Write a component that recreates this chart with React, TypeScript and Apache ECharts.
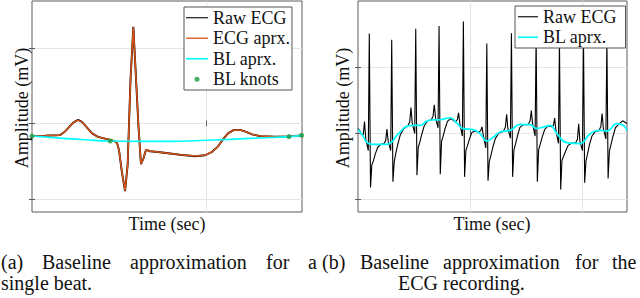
import React, { useEffect, useRef } from 'react';
import * as echarts from 'echarts';

// ---------- (a) single beat ----------
const beatTime = [0, 0.041, 0.088, 0.101, 0.113, 0.129, 0.145, 0.157, 0.170, 0.189, 0.208, 0.233, 0.252, 0.261, 0.268, 0.274, 0.283, 0.293, 0.301, 0.310, 0.319, 0.327, 0.335, 0.343, 0.351, 0.359, 0.372, 0.403, 0.466, 0.513, 0.545, 0.567, 0.586, 0.601, 0.617, 0.636, 0.655, 0.674, 0.693, 0.718, 0.765, 0.812, 0.850];
const beatRaw = [-0.167, -0.164, -0.155, -0.118, -0.066, 0.007, 0.049, 0.020, -0.039, -0.132, -0.178, -0.204, -0.224, -0.237, -0.263, -0.355, -0.645, -0.895, -0.553, 0.566, 1.276, 0.632, -0.026, -0.539, -0.461, -0.349, -0.368, -0.382, -0.414, -0.434, -0.421, -0.375, -0.303, -0.211, -0.132, -0.086, -0.086, -0.112, -0.145, -0.168, -0.175, -0.171, -0.158];
const beatAprx = [-0.167, -0.164, -0.156, -0.120, -0.068, 0.004, 0.044, 0.018, -0.040, -0.132, -0.178, -0.204, -0.224, -0.237, -0.263, -0.355, -0.645, -0.890, -0.553, 0.566, 1.270, 0.632, -0.026, -0.535, -0.461, -0.349, -0.368, -0.382, -0.414, -0.432, -0.421, -0.375, -0.303, -0.211, -0.132, -0.088, -0.088, -0.112, -0.145, -0.168, -0.175, -0.171, -0.158];
const blBeatTime = [0, 0.088, 0.167, 0.246, 0.340, 0.435, 0.529, 0.623, 0.718, 0.809, 0.850];
const blBeatVal = [-0.167, -0.195, -0.217, -0.233, -0.237, -0.237, -0.226, -0.211, -0.192, -0.175, -0.158];
const knotTime = [0, 0.246, 0.809, 0.849];
const knotVal = [-0.167, -0.233, -0.175, -0.158];

// ---------- (b) recording ----------
const recTime = [
  0, 0.08,
  0.147, 0.236, 0.290, 0.348, 0.415, 0.459, 0.504, 0.558, 0.616, 0.683, 0.772, 0.883, 1.04,
  1.147, 1.236, 1.290, 1.348, 1.415, 1.459, 1.504, 1.558, 1.616, 1.683, 1.772, 1.883, 2.04,
  2.219, 2.308, 2.362, 2.420, 2.487, 2.531, 2.576, 2.630, 2.688, 2.755, 2.844, 2.955, 3.112,
  3.259, 3.348, 3.402, 3.460, 3.527, 3.571, 3.616, 3.670, 3.728, 3.795, 3.884, 3.995, 4.152,
  4.344, 4.433, 4.487, 4.545, 4.612, 4.656, 4.701, 4.755, 4.813, 4.880, 4.969, 5.080, 5.237,
  5.389, 5.478, 5.532, 5.590, 5.657, 5.701, 5.746, 5.800, 5.858, 5.925, 6.014, 6.125, 6.282,
  6.487, 6.576, 6.630, 6.688, 6.755, 6.799, 6.844, 6.898, 6.956, 7.023, 7.112, 7.223, 7.380,
  7.589, 7.678, 7.732, 7.790, 7.857, 7.901, 7.946, 8.000, 8.058, 8.125, 8.214, 8.325, 8.482,
  8.630, 8.719, 8.773, 8.831, 8.898, 8.942, 8.987, 9.041, 9.099, 9.166, 9.255, 9.366, 9.523,
  9.701, 9.790, 9.844, 9.902, 9.969, 10.013, 10.058, 10.112, 10.170, 10.237, 10.326, 10.437, 10.594,
  10.746, 10.835, 10.889, 10.947, 11.014, 11.058, 11.103, 11.157, 11.215, 11.282, 11.371, 11.482, 11.639,
  11.8, 12.0,
];
const recRaw = [
  0.07, 0.04,
  -0.01, -0.02, 0.18, -0.09, -0.19, -0.26, 1.508, -0.817, -0.48, -0.42, -0.31, -0.21, -0.16,
  -0.16, -0.11, 0.065, -0.125, -0.205, -0.26, 1.414, -0.732, -0.43, -0.305, -0.17, -0.025, 0.07,
  0.11, 0.17, 0.39, 0.15, 0.06, 0.0, 1.579, -0.632, -0.21, -0.135, -0.015, 0.115, 0.19,
  0.20, 0.26, 0.43, 0.235, 0.145, 0.085, 1.624, -0.617, -0.12, -0.045, 0.07, 0.185, 0.225,
  0.17, 0.21, 0.31, 0.145, 0.03, -0.04, 1.689, -0.657, -0.26, -0.19, -0.09, 0.015, 0.04,
  0.01, 0.045, 0.10, -0.03, -0.145, -0.22, 1.358, -0.717, -0.425, -0.335, -0.21, -0.08, 0.005,
  0.03, 0.095, 0.29, 0.07, -0.015, -0.075, 1.514, -0.657, -0.25, -0.165, -0.04, 0.09, 0.135,
  0.13, 0.19, 0.345, 0.14, 0.03, -0.04, 1.474, -0.732, -0.25, -0.17, -0.06, 0.055, 0.115,
  0.10, 0.12, 0.23, 0.04, -0.075, -0.15, 1.398, -0.847, -0.405, -0.35, -0.275, -0.185, -0.145,
  -0.15, -0.09, 0.146, -0.125, -0.205, -0.26, 1.474, -0.747, -0.42, -0.315, -0.17, -0.04, 0.03,
  0.04, 0.105, 0.30, 0.07, -0.02, -0.085, 1.429, -0.681, -0.27, -0.175, -0.05, 0.085, 0.14,
  0.19, 0.15,
];
const blRecTime = [0, 0.179, 0.388, 0.625, 0.982, 1.281, 1.504, 1.696, 1.875, 2.174, 2.455, 2.768, 3.067, 3.348, 3.661, 4.107, 4.406, 4.701, 5.147, 5.446, 5.746, 6.040, 6.339, 6.786, 7.232, 7.679, 7.946, 8.272, 8.571, 8.871, 9.317, 9.911, 10.058, 10.357, 10.804, 11.103, 11.549, 11.844, 12.0];
const blRecVal = [0.056, -0.015, -0.131, -0.165, -0.165, -0.165, -0.131, -0.045, 0.020, 0.105, 0.120, 0.120, 0.185, 0.203, 0.206, 0.236, 0.155, 0.071, 0.056, -0.005, -0.116, -0.056, 0.020, 0.045, 0.135, 0.131, 0.075, 0.095, 0.120, -0.005, -0.140, -0.155, -0.131, -0.005, 0.045, 0.035, 0.146, 0.120, 0.045];

const legendA = ['Raw ECG', 'ECG aprx.', 'BL aprx.', 'BL knots'];
const legendB = ['Raw ECG', 'BL aprx.'];
const xTicksA = [0.55];
const yTicksA = [-1, 0, 1];
const xTicksB = [5, 10];
const yTicksB = [-1, 0, 1];

const FONT = 'Liberation Serif';
const FRAME = '#5c5c5c';
const GRIDC = '#e4e4e4';

function zip(a: number[], b: number[]) {
  return a.map((v, i) => [v, b[i]]);
}

function mkAxis(gridIndex: number, min: number, max: number, ticks: number[], position: string, mirror: boolean) {
  return {
    type: 'value',
    gridIndex,
    min,
    max,
    position,
    axisLine: { show: false },
    axisLabel: { show: false, customValues: ticks },
    axisTick: { show: true, inside: true, length: 3, customValues: ticks, lineStyle: { color: FRAME, width: 1 } },
    splitLine: { show: !mirror, lineStyle: { color: GRIDC, width: 1 } },
  };
}

function txt(text: string, x: number, y: number, size: number, align = 'left', rotation = 0) {
  return {
    type: 'text',
    x,
    y,
    rotation,
    z: 10,
    style: { text, fontSize: size, fontFamily: FONT, fill: '#111', align, verticalAlign: 'middle' },
  };
}

function lineIcon(w: number, thick: number) {
  const a = 5 - thick / 2;
  const b = 5 + thick / 2;
  return `path://M0,0M${w},10M0,${a}L${w},${a}L${w},${b}L0,${b}Z`;
}

const legendCommon = {
  orient: 'vertical',
  itemHeight: 10,
  itemGap: 1,
  backgroundColor: '#fff',
  borderColor: '#555',
  borderWidth: 1,
  borderRadius: 0,
  selectedMode: false,
  textStyle: { fontFamily: FONT, fontSize: 18, color: '#111', lineHeight: 19.5 },
};

const option = {
  animation: false,
  backgroundColor: '#fff',
  grid: [
    { left: 32, top: 1, width: 270, height: 211, show: true, borderColor: FRAME, borderWidth: 1, backgroundColor: 'transparent' },
    { left: 358, top: 1, width: 269, height: 211, show: true, borderColor: FRAME, borderWidth: 1, backgroundColor: 'transparent' },
  ],
  xAxis: [
    mkAxis(0, 0, 0.85, xTicksA, 'bottom', false),
    mkAxis(0, 0, 0.85, xTicksA, 'top', true),
    mkAxis(1, 0, 12, xTicksB, 'bottom', false),
    mkAxis(1, 0, 12, xTicksB, 'top', true),
  ],
  yAxis: [
    mkAxis(0, -1.171, 1.618, yTicksA, 'left', false),
    mkAxis(0, -1.171, 1.618, yTicksA, 'right', true),
    mkAxis(1, -1.188, 2.0, yTicksB, 'left', false),
    mkAxis(1, -1.188, 2.0, yTicksB, 'right', true),
  ],
  legend: [
    {
      ...legendCommon,
      left: 184,
      top: 7,
      itemWidth: 22,
      padding: [1, 2, 1, 2],
      data: [
        { name: legendA[0], icon: lineIcon(22, 1.1) },
        { name: legendA[1], icon: lineIcon(22, 1.3) },
        { name: legendA[2], icon: lineIcon(22, 1.6) },
        { name: legendA[3], icon: 'path://M0,0M22,10M8.5,5a2.5,2.5 0 1,0 5,0a2.5,2.5 0 1,0 -5,0z' },
      ],
    },
    {
      ...legendCommon,
      left: 515,
      top: 6,
      itemWidth: 20,
      padding: [1, 9, 1, 3],
      data: [
        { name: legendB[0], icon: lineIcon(20, 1.1) },
        { name: legendB[1], icon: lineIcon(20, 1.6) },
      ],
    },
  ],
  series: [
    { name: 'Raw ECG', type: 'line', xAxisIndex: 0, yAxisIndex: 0, data: zip(beatTime, beatRaw), symbol: 'none', lineStyle: { color: '#000', width: 1.9 }, itemStyle: { color: '#000' }, z: 2 },
    { name: 'ECG aprx.', type: 'line', xAxisIndex: 0, yAxisIndex: 0, data: zip(beatTime, beatAprx), symbol: 'none', lineStyle: { color: '#D95319', width: 1.5 }, itemStyle: { color: '#D95319' }, z: 3 },
    { name: 'BL aprx.', type: 'line', xAxisIndex: 0, yAxisIndex: 0, data: zip(blBeatTime, blBeatVal), smooth: true, symbol: 'none', lineStyle: { color: '#00FFFF', width: 1.6 }, itemStyle: { color: '#00FFFF' }, z: 4 },
    { name: 'BL knots', type: 'scatter', xAxisIndex: 0, yAxisIndex: 0, data: zip(knotTime, knotVal), symbol: 'circle', symbolSize: 5, itemStyle: { color: '#1f9a3c' }, z: 5 },
    { name: 'Raw ECG', type: 'line', xAxisIndex: 2, yAxisIndex: 2, data: zip(recTime, recRaw), symbol: 'none', lineStyle: { color: '#000', width: 1.1 }, itemStyle: { color: '#000' }, z: 2 },
    { name: 'BL aprx.', type: 'line', xAxisIndex: 2, yAxisIndex: 2, data: zip(blRecTime, blRecVal), smooth: true, symbol: 'none', lineStyle: { color: '#00FFFF', width: 1.7 }, itemStyle: { color: '#00FFFF' }, z: 3 },
  ],
  graphic: {
    elements: [
      txt('Amplitude (mV)', 22, 108, 18, 'center', Math.PI / 2),
      txt('Amplitude (mV)', 343, 108, 18, 'center', Math.PI / 2),
      txt('Time (sec)', 167, 224, 18, 'center'),
      txt('Time (sec)', 492, 224, 18, 'center'),
      txt('(a)', 1, 262, 20),
      txt('Baseline', 42, 262, 20),
      txt('approximation', 130, 262, 20),
      txt('for', 266, 262, 20),
      txt('a', 308, 262, 20),
      txt('(b)', 322, 262, 20),
      txt('Baseline', 360, 262, 20),
      txt('approximation', 443, 262, 20),
      txt('for', 575, 262, 20),
      txt('the', 612, 262, 20),
      txt('single beat.', 1, 283, 20),
      txt('ECG recording.', 398, 283, 20),
    ],
  },
};

export default function App() {
  const ref = useRef<HTMLDivElement>(null);
  useEffect(() => {
    const chart = echarts.init(ref.current!, null, { renderer: 'svg' });
    chart.setOption(option as any);
    return () => chart.dispose();
  }, []);
  return (
    <div
      ref={ref}
      style={{ position: 'fixed', left: 0, top: 0, width: 640, height: 298, background: '#fff' }}
    />
  );
}
